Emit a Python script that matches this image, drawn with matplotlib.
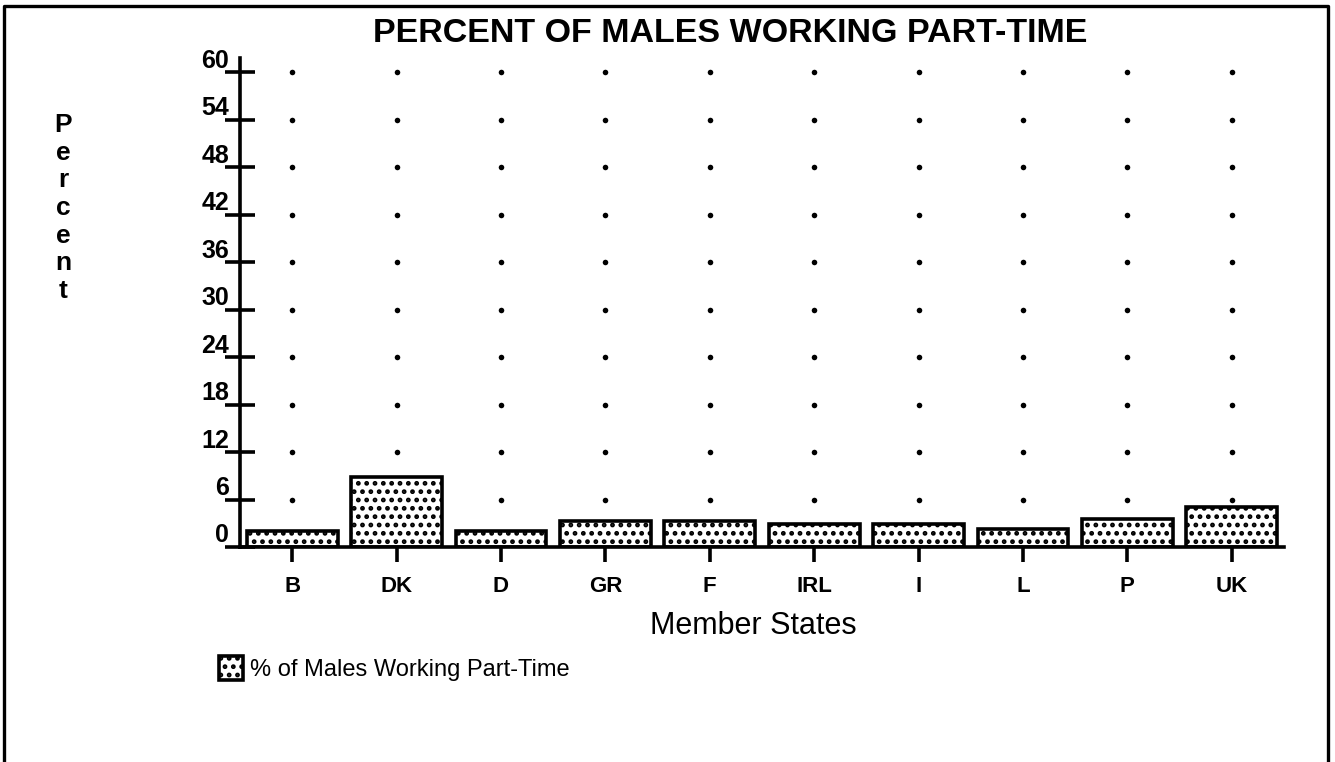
"""Percent of males working part-time, by member state (bar chart)."""

import matplotlib

matplotlib.use("Agg")
import matplotlib.pyplot as plt
from matplotlib.lines import Line2D
from matplotlib.patches import Rectangle
from matplotlib.transforms import ScaledTranslation

# ---------------------------------------------------------------------------
# Data
# ---------------------------------------------------------------------------

states = ["B", "DK", "D", "GR", "F", "IRL", "I", "L", "P", "UK"]
pct_males_part_time = [2.0, 8.8, 2.0, 3.3, 3.3, 2.9, 2.9, 2.3, 3.5, 5.0]
y_ticks = [0, 6, 12, 18, 24, 30, 36, 42, 48, 54, 60]

title = "PERCENT OF MALES WORKING PART-TIME"
x_label = "Member States"
y_label = "Percent"
legend_label = "% of Males Working Part-Time"

# ---------------------------------------------------------------------------
# Figure
# ---------------------------------------------------------------------------

W, H = 1335, 762
plt.rcParams["font.family"] = ["Liberation Sans", "DejaVu Sans"]
plt.rcParams["hatch.linewidth"] = 2.2

fig = plt.figure(figsize=(W / 100, H / 100), dpi=100)
ax = fig.add_axes([240 / W, 1 - 547 / H, 1044 / W, 489 / H])

x = list(range(len(states)))

# dotted grid: one dot per category at every non-zero tick
for yv in y_ticks[1:]:
    ax.scatter(x, [yv] * len(x), s=16, color="black", zorder=1, linewidths=0)

ax.bar(
    x,
    pct_males_part_time,
    width=0.87,
    facecolor="white",
    edgecolor="black",
    linewidth=2.6,
    hatch="..",
    zorder=2,
)

ax.set_xlim(-0.5, len(states) - 0.5)
ax.set_ylim(0, 61.8)
ax.set_xticks(x)
ax.set_xticklabels(states, fontsize=16, fontweight="bold")
ax.set_yticks(y_ticks)
ax.set_yticklabels([str(v) for v in y_ticks], fontsize=18, fontweight="bold")

ax.tick_params(axis="x", direction="inout", length=22, width=2.6, pad=10)
ax.tick_params(axis="y", direction="inout", length=22, width=2.6, pad=-3)

# labels in the original sit above their tick marks
lift = ScaledTranslation(0, 14 / 100, fig.dpi_scale_trans)
for lab in ax.get_yticklabels():
    lab.set_transform(lab.get_transform() + lift)

for side in ("top", "right"):
    ax.spines[side].set_visible(False)
for side in ("left", "bottom"):
    ax.spines[side].set_linewidth(2.6)
    ax.spines[side].set_zorder(3)

# ---------------------------------------------------------------------------
# Text
# ---------------------------------------------------------------------------

fig.text(730 / W, 1 - 42 / H, title, ha="center", va="baseline",
         fontsize=24.5, fontweight="bold")

for i, ch in enumerate(y_label):
    fig.text(63 / W, 1 - (132 + i * 27.7) / H, ch, ha="center",
             va="baseline", fontsize=19, fontweight="bold")

fig.text(753 / W, 1 - 634 / H, x_label, ha="center", va="baseline",
         fontsize=22)

# legend, drawn by hand as in the original
fig.add_artist(Rectangle((219 / W, 1 - 680 / H), 24 / W, 24 / H,
                         transform=fig.transFigure, facecolor="white",
                         edgecolor="black", linewidth=2.6, hatch=".."))
fig.text(250 / W, 1 - 670 / H, legend_label, ha="left", va="center",
         fontsize=17)

# page frame (open at the bottom)
frame_x = [4 / W, 4 / W, 1328 / W, 1328 / W]
frame_y = [0, 1 - 6 / H, 1 - 6 / H, 0]
fig.add_artist(Line2D(frame_x, frame_y, transform=fig.transFigure,
                      color="black", linewidth=2.4))

fig.savefig("out.png", dpi=100)
